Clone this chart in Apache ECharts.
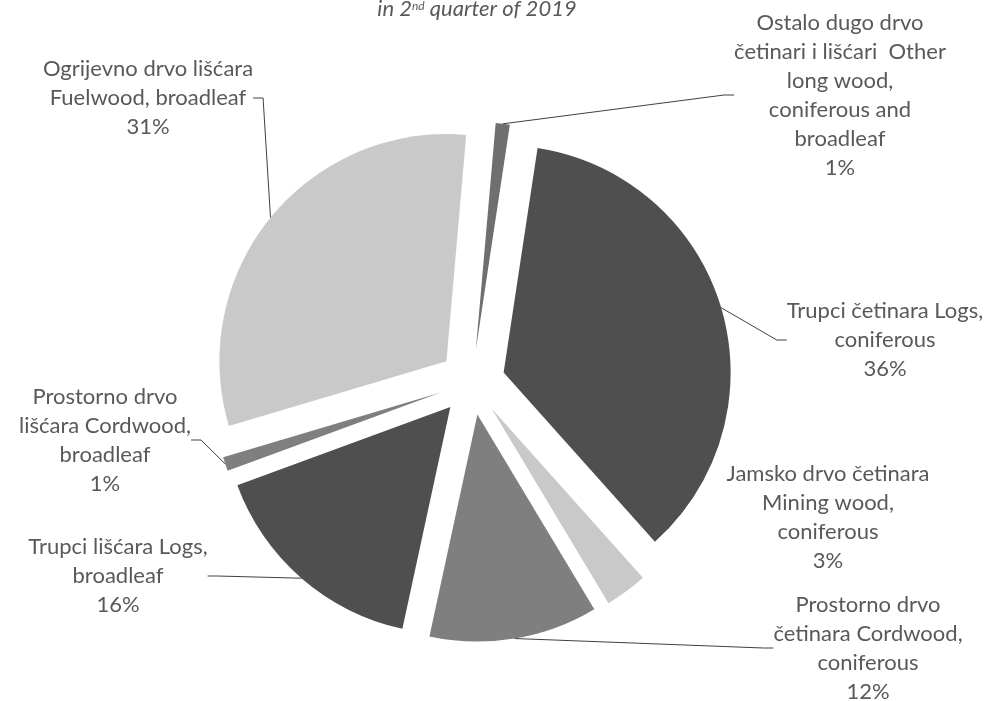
<!DOCTYPE html>
<html>
<head>
<meta charset="utf-8">
<script src="https://cdn.jsdelivr.net/npm/echarts@6/dist/echarts.min.js"></script>
<style>
html,body{margin:0;padding:0;background:#fff;}
#chart{width:994px;height:701px;}
</style>
</head>
<body>
<div id="chart"></div>
<script>
const categories = [
  "Ostalo dugo drvo\nčetinari i lišćari  Other\nlong wood,\nconiferous and\nbroadleaf",
  "Trupci četinara Logs,\nconiferous",
  "Jamsko drvo četinara\nMining wood,\nconiferous",
  "Prostorno drvo\nčetinara Cordwood,\nconiferous",
  "Trupci lišćara Logs,\nbroadleaf",
  "Prostorno drvo\nlišćara Cordwood,\nbroadleaf",
  "Ogrijevno drvo lišćara\nFuelwood, broadleaf"
];
const shares = [1, 36, 3, 12, 16, 1, 31];
const sliceColors = ["#6f6f6f", "#4f4f4f", "#c9c9c9", "#7f7f7f", "#4f4f4f", "#7f7f7f", "#c9c9c9"];
const labelPos = [[840, 95], [885, 340], [828, 517], [868, 648], [118, 576], [105, 440], [148, 98]];
const showLine = [true, true, false, true, true, true, true];

const PIE_CENTER = [472, 382];
const PIE_RADIUS = 227;
const EXPLODE = 33;
const START = 85; // degrees, ECharts convention (counter-clockwise from 3 o'clock)

const total = shares.reduce(function (a, b) { return a + b; }, 0);
let cum = 0;
const series = shares.map(function (v, i) {
  const start = START - 360 * cum / total;
  const mid = (start - 180 * v / total) * Math.PI / 180;
  cum += v;
  const cx = PIE_CENTER[0] + EXPLODE * Math.cos(mid);
  const cy = PIE_CENTER[1] - EXPLODE * Math.sin(mid);
  return {
    type: 'pie',
    center: [cx, cy],
    radius: PIE_RADIUS,
    startAngle: start,
    clockwise: true,
    avoidLabelOverlap: false,
    silent: true,
    emphasis: {disabled: true},
    itemStyle: {borderWidth: 0},
    label: {
      show: true,
      formatter: function (p) { return p.name + '\n' + p.value + '%'; },
      fontFamily: 'Lato',
      fontSize: 22,
      lineHeight: 29,
      color: '#595959',
      align: 'center'
    },
    labelLine: {show: showLine[i], length: 10, length2: 10, lineStyle: {color: '#404040', width: 1}},
    labelLayout: function (params) {
      if (params.dataIndex !== 0) return {};
      const p = labelPos[i];
      return {x: p[0], y: p[1], align: 'center', verticalAlign: 'middle'};
    },
    data: [
      {name: categories[i], value: v, itemStyle: {color: sliceColors[i]}},
      {name: '', value: total - v, itemStyle: {color: 'rgba(0,0,0,0)'}, label: {show: false}, labelLine: {show: false}}
    ]
  };
});

const chart = echarts.init(document.getElementById('chart'));
chart.setOption({
  animation: false,
  backgroundColor: '#ffffff',
  title: {
    text: 'in 2{sup|nd} quarter of 2019',
    left: 472,
    textAlign: 'center',
    top: -7,
    textStyle: {
      fontFamily: 'Lato',
      fontStyle: 'italic',
      fontWeight: 'normal',
      fontSize: 22,
      color: '#595959',
      rich: {
        sup: {fontFamily: 'Lato', fontStyle: 'italic', fontSize: 12, color: '#595959', verticalAlign: 'top', padding: [2, 0, 6, 0]}
      }
    }
  },
  series: series
});
</script>
</body>
</html>
